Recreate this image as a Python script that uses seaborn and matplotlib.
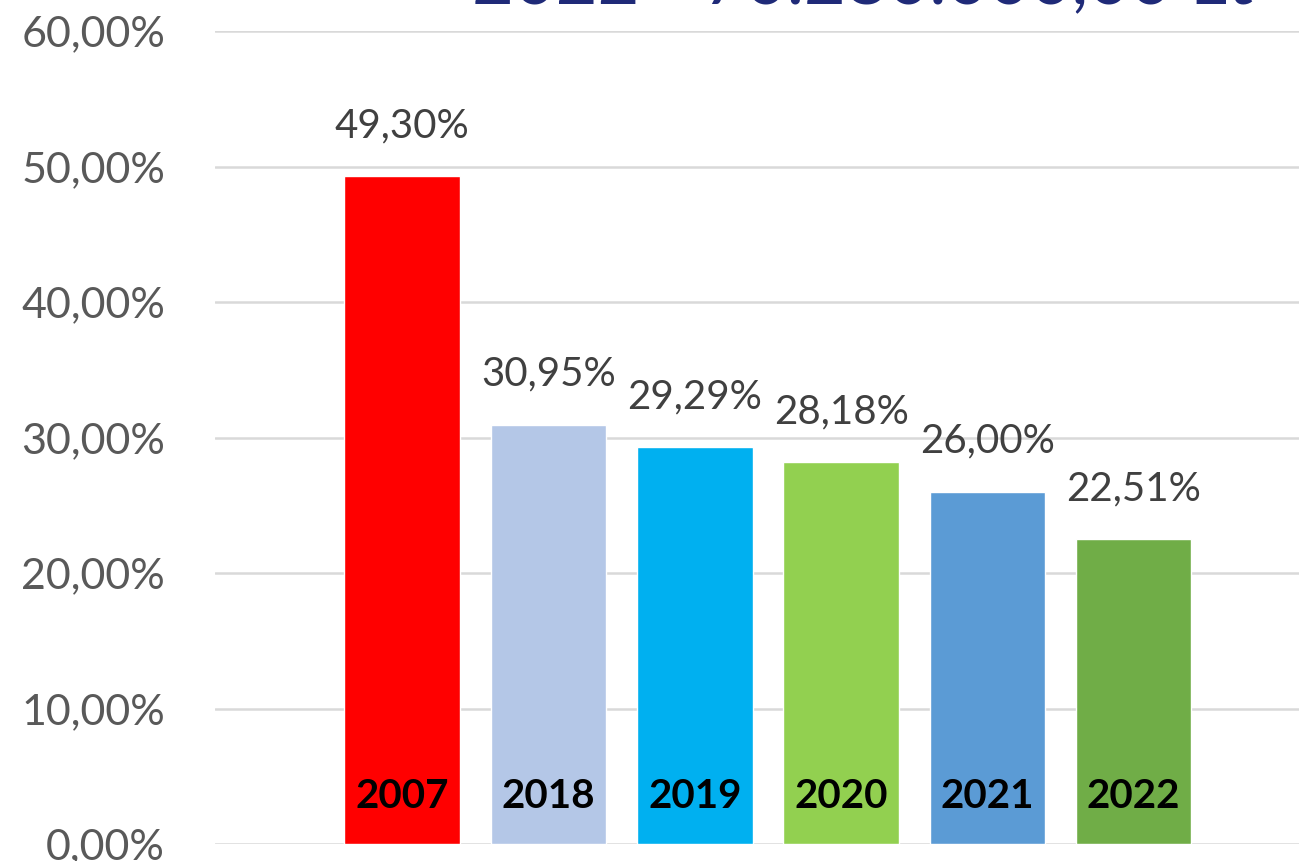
import matplotlib

matplotlib.use("Agg")
import matplotlib.pyplot as plt
import pandas as pd
import seaborn as sns

years = ["2007", "2018", "2019", "2020", "2021", "2022"]
shares = [49.30, 30.95, 29.29, 28.18, 26.00, 22.51]
bar_colors = ["#FF0000", "#B4C7E7", "#00B0F0", "#92D050", "#5B9BD5", "#70AD47"]
y_ticks = [0, 10, 20, 30, 40, 50, 60]
title_text = "2022 - 70.280.000,00 Lt"

sns.set_theme(style="white")
plt.rcParams["font.family"] = ["Lato", "DejaVu Sans"]

df = pd.DataFrame({"year": years, "share": shares})


def pct(v):
    return f"{v:.2f}%".replace(".", ",")


fig = plt.figure(figsize=(12.99, 8.61), dpi=100)
ax = fig.add_axes([215 / 1299, 17 / 861, 1 - 215 / 1299, (844 - 31) / 861])

sns.barplot(data=df, x="year", y="share", hue="year", palette=bar_colors,
            legend=False, width=0.79, saturation=1, ax=ax, zorder=3)

ax.set_ylim(0, 60)
ax.set_xlim(-1.28, 6.13)
ax.set_yticks(y_ticks)
ax.set_yticklabels([pct(t) for t in y_ticks], fontsize=31, color="#595959")
ax.tick_params(axis="y", length=0, pad=36)
ax.set_xticks([])
ax.set_xlabel("")
ax.set_ylabel("")
ax.grid(axis="y", color="#D9D9D9", linewidth=1.8, zorder=0)
for s in ax.spines.values():
    s.set_visible(False)

for i, v in enumerate(shares):
    ax.annotate(pct(v), (i, v), xytext=(0, 23), textcoords="offset points",
                ha="center", va="bottom", fontsize=29, color="#404040")
    ax.text(i, 3.5, years[i], ha="center", va="center", fontsize=29,
            fontweight="bold", color="black", zorder=4)

# title of the original slide, cut off at the top edge
fig.text(472 / 1299, 1 - 4.5 / 861, title_text, ha="left", va="baseline",
         fontsize=52, color="#1F2A78")

fig.savefig("out.png", dpi=100)
